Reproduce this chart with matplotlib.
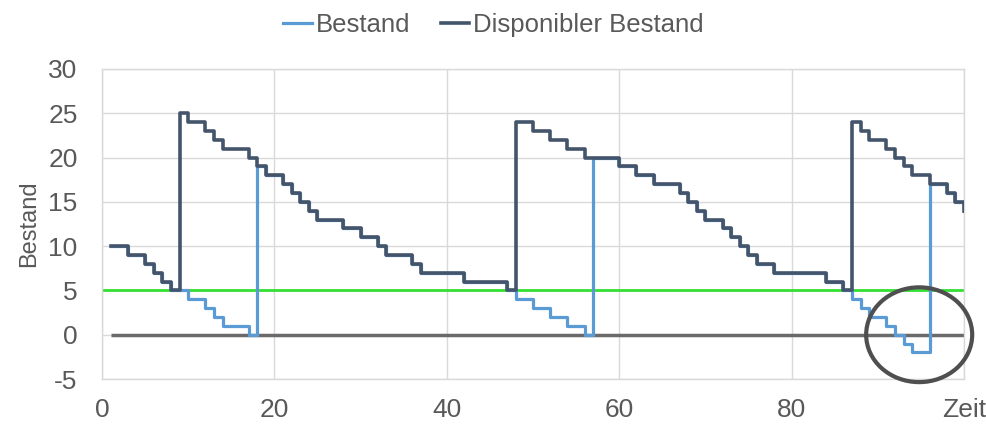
import numpy as np
import matplotlib.pyplot as plt
from matplotlib.patches import Ellipse

plt.rcParams['font.family'] = ['Liberation Sans', 'DejaVu Sans']
plt.rcParams['axes.unicode_minus'] = False

zeit = np.arange(1, 101)
# Disponibler Bestand (Lager + offene Bestellung)
dispo = [10, 10, 9, 9, 8, 7, 6, 5, 25, 24,
         24, 23, 22, 21, 21, 21, 20, 19, 18, 18,
         17, 16, 15, 14, 13, 13, 13, 12, 12, 11,
         11, 10, 9, 9, 9, 8, 7, 7, 7, 7,
         7, 6, 6, 6, 6, 6, 5, 24, 24, 23,
         23, 22, 22, 21, 21, 20, 20, 20, 20, 19,
         19, 18, 18, 17, 17, 17, 16, 15, 14, 13,
         13, 12, 11, 10, 9, 8, 8, 7, 7, 7,
         7, 7, 7, 6, 6, 5, 24, 23, 22, 22,
         21, 20, 19, 18, 18, 17, 17, 16, 15, 14]
# Bestand (Lager)
bestand = [10, 10, 9, 9, 8, 7, 6, 5, 5, 4,
           4, 3, 2, 1, 1, 1, 0, 19, 18, 18,
           17, 16, 15, 14, 13, 13, 13, 12, 12, 11,
           11, 10, 9, 9, 9, 8, 7, 7, 7, 7,
           7, 6, 6, 6, 6, 6, 5, 4, 4, 3,
           3, 2, 2, 1, 1, 0, 20, 20, 20, 19,
           19, 18, 18, 17, 17, 17, 16, 15, 14, 13,
           13, 12, 11, 10, 9, 8, 8, 7, 7, 7,
           7, 7, 7, 6, 6, 5, 4, 3, 2, 2,
           1, 0, -1, -2, -2, 17, 17, 16, 15, 14]
meldebestand = 5
fehlmenge_zeit = 94.8  # Markierung der Fehlmenge

xticks = [0, 20, 40, 60, 80, 100]
xlabels = ['0', '20', '40', '60', '80', 'Zeit']
yticks = [-5, 0, 5, 10, 15, 20, 25, 30]

txt = '#595959'
fig = plt.figure(figsize=(9.87, 4.24), dpi=100)
ax = fig.add_axes([0.1033, 0.1061, 0.8734, 0.7312])

ax.axhline(meldebestand, color='#33e033', lw=2.0, zorder=2)
ax.hlines(0, zeit[0], zeit[-1], color='#6a6a6a', lw=2.5, zorder=2)
ax.plot(zeit, bestand, drawstyle='steps-post', color='#5b9bd5', lw=2.3,
        label='Bestand', zorder=3)
ax.plot(zeit, dispo, drawstyle='steps-post', color='#44546a', lw=2.6,
        label='Disponibler Bestand', zorder=4)

ax.add_patch(Ellipse((fehlmenge_zeit, 0), 12.3, 10.7, fill=False,
                     edgecolor='#4f4f4f', lw=3.0, clip_on=False, zorder=5))

ax.set_xlim(0, 100)
ax.set_ylim(-5, 30)
ax.set_xticks(xticks)
ax.set_xticklabels(xlabels)
ax.set_yticks(yticks)
ax.tick_params(length=0, labelsize=19, colors=txt)
ax.tick_params(axis='x', pad=14)
ax.tick_params(axis='y', pad=17.5)
ax.grid(True, color='#d9d9d9', lw=1)
ax.set_axisbelow(True)
for s in ax.spines.values():
    s.set_color('#d9d9d9')
    s.set_linewidth(1)
ax.set_ylabel('Bestand', fontsize=17, color=txt, labelpad=6)

fig.legend(loc='upper center', bbox_to_anchor=(0.5, 1.025), ncol=2,
           frameon=False, fontsize=18.5, labelcolor=txt, handlelength=1.1,
           handletextpad=0.15, columnspacing=1.2)

fig.savefig('out.png', dpi=100)
